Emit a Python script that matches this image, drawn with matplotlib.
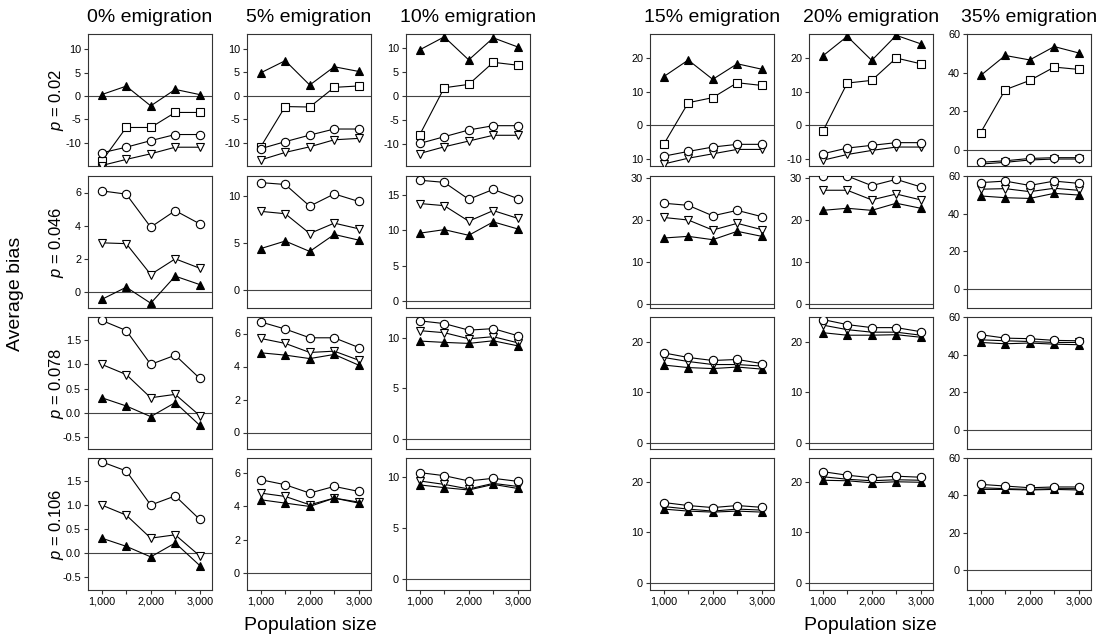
import matplotlib
matplotlib.use('Agg')
import matplotlib.pyplot as plt
from matplotlib.ticker import FixedLocator, FixedFormatter

plt.rcParams['font.family'] = ['Liberation Sans', 'DejaVu Sans']
plt.rcParams['axes.unicode_minus'] = False
plt.rcParams['mathtext.fontset'] = 'custom'
plt.rcParams['mathtext.rm'] = 'Liberation Sans'
plt.rcParams['mathtext.it'] = 'Liberation Sans:italic'

# ---------------- data ----------------
pop_size = [1000, 1500, 2000, 2500, 3000]
x_tick_labels = ['1,000', '', '2,000', '', '3,000']
emigration_labels = ['0% emigration', '5% emigration', '10% emigration',
                     '15% emigration', '20% emigration', '35% emigration']
p_labels = ['0.02', '0.046', '0.078', '0.106']

# row 1 (p = 0.02), one list per emigration column
r1_filled_tri = [
    [0.3, 2.1, -2.1, 1.4, 0.3],
    [4.9, 7.5, 2.3, 6.2, 5.2],
    [9.6, 12.3, 7.5, 12.1, 10.2],
    [14.4, 19.3, 13.6, 18.2, 16.6],
    [20.5, 26.3, 19.2, 26.6, 24.1],
    [38.6, 48.9, 46.6, 53.5, 50.2],
]
r1_square = [
    [-13.9, -6.7, -6.7, -3.5, -3.5],
    [-10.9, -2.3, -2.4, 1.8, 2.1],
    [-8.1, 1.7, 2.4, 7.0, 6.4],
    [-5.6, 6.7, 8.2, 12.6, 11.8],
    [-1.8, 12.5, 13.3, 19.9, 18.2],
    [9.1, 31.2, 36.0, 42.9, 41.7],
]
r1_circle = [
    [-12.1, -10.9, -9.5, -8.2, -8.2],
    [-11.3, -9.8, -8.4, -7.1, -7.1],
    [-9.9, -8.5, -7.1, -6.2, -6.2],
    [-9.1, -7.7, -6.4, -5.6, -5.6],
    [-8.4, -6.7, -5.9, -5.1, -5.1],
    [-6.3, -5.5, -4.3, -3.9, -3.9],
]
r1_inv_tri = [
    [-14.8, -13.5, -12.3, -10.9, -10.9],
    [-13.7, -12.1, -10.9, -9.4, -9.1],
    [-12.0, -10.6, -9.4, -8.2, -8.2],
    [-11.4, -9.7, -8.4, -7.1, -7.1],
    [-10.3, -8.6, -7.4, -6.4, -6.4],
    [-7.2, -6.3, -5.1, -4.6, -4.6],
]

# row 2 (p = 0.046)
r2_circle = [
    [6.1, 5.9, 3.9, 4.9, 4.1],
    [11.4, 11.2, 8.9, 10.2, 9.4],
    [17.1, 16.8, 14.4, 15.8, 14.5],
    [24.0, 23.5, 21.0, 22.3, 20.8],
    [30.5, 30.5, 28.2, 29.7, 27.9],
    [56.5, 57.3, 55.0, 57.3, 56.1],
]
r2_inv_tri = [
    [2.95, 2.9, 1.03, 1.98, 1.41],
    [8.35, 8.1, 6.0, 7.1, 6.5],
    [13.8, 13.5, 11.3, 12.8, 11.7],
    [20.6, 20.0, 17.6, 19.2, 17.7],
    [27.1, 27.1, 24.8, 26.2, 24.8],
    [53.0, 53.3, 51.7, 53.5, 52.4],
]
r2_filled_tri = [
    [-0.48, 0.26, -0.71, 0.93, 0.42],
    [4.4, 5.2, 4.1, 5.9, 5.3],
    [9.6, 10.1, 9.3, 11.2, 10.2],
    [15.7, 16.1, 15.3, 17.3, 16.1],
    [22.3, 22.8, 22.3, 24.0, 22.8],
    [49.4, 48.5, 48.1, 50.8, 49.9],
]

# row 3 (p = 0.078)
r3_circle = [
    [1.91, 1.70, 1.0, 1.19, 0.71],
    [6.7, 6.27, 5.74, 5.74, 5.15],
    [11.67, 11.4, 10.75, 10.9, 10.2],
    [17.8, 16.9, 16.3, 16.5, 15.7],
    [24.4, 23.4, 22.8, 22.8, 22.0],
    [50.6, 48.8, 48.5, 47.6, 47.4],
]
r3_inv_tri = [
    [1.0, 0.79, 0.31, 0.38, -0.06],
    [5.7, 5.4, 4.85, 4.93, 4.38],
    [10.7, 10.5, 9.9, 10.1, 9.5],
    [16.9, 16.1, 15.5, 15.5, 15.2],
    [23.3, 22.4, 21.9, 21.9, 21.3],
    [47.9, 47.4, 47.0, 46.5, 46.5],
]
r3_filled_tri = [
    [0.31, 0.14, -0.08, 0.21, -0.26],
    [4.83, 4.69, 4.48, 4.73, 4.08],
    [9.67, 9.54, 9.44, 9.7, 9.2],
    [15.4, 14.9, 14.7, 15.0, 14.6],
    [21.8, 21.3, 21.3, 21.4, 20.9],
    [46.5, 45.8, 46.2, 45.6, 45.3],
]

# row 4 (p = 0.106)
r4_circle = [
    [1.90, 1.71, 1.0, 1.19, 0.70],
    [5.6, 5.3, 4.8, 5.2, 4.9],
    [10.46, 10.16, 9.64, 9.9, 9.6],
    [15.9, 15.3, 14.9, 15.3, 14.95],
    [22.0, 21.3, 20.8, 21.1, 20.9],
    [45.9, 45.0, 44.1, 44.5, 44.5],
]
r4_inv_tri = [
    [1.0, 0.79, 0.31, 0.38, -0.06],
    [4.8, 4.6, 4.1, 4.5, 4.26],
    [9.64, 9.3, 8.85, 9.4, 9.1],
    [15.1, 14.6, 14.2, 14.6, 14.4],
    [21.0, 20.5, 20.2, 20.4, 20.3],
    [44.1, 43.6, 43.2, 43.6, 43.6],
]
r4_filled_tri = [
    [0.31, 0.14, -0.08, 0.21, -0.26],
    [4.4, 4.2, 4.0, 4.5, 4.2],
    [9.25, 8.98, 8.75, 9.3, 8.9],
    [14.6, 14.2, 14.0, 14.2, 14.0],
    [20.3, 20.2, 19.8, 20.0, 19.9],
    [43.2, 43.2, 42.9, 43.2, 42.9],
]

rows = [
    {'square': r1_square, 'inv': r1_inv_tri, 'tri': r1_filled_tri, 'circle': r1_circle},
    {'inv': r2_inv_tri, 'tri': r2_filled_tri, 'circle': r2_circle},
    {'inv': r3_inv_tri, 'tri': r3_filled_tri, 'circle': r3_circle},
    {'inv': r4_inv_tri, 'tri': r4_filled_tri, 'circle': r4_circle},
]

# ---------------- axis settings ----------------
ylims = [
    [(-14.9, 13.2), (-15.0, 13.2), (-14.6, 12.9), (-12, 27), (-12, 27), (-8.2, 60)],
    [(-1, 7), (-1.9, 12.1), (-1, 17.7), (-1, 30.5), (-1, 30.5), (-10, 60)],
    [(-0.75, 1.98), (-1, 7), (-1, 12.05), (-1.2, 24.9), (-1.2, 24.9), (-10, 60)],
    [(-0.77, 1.98), (-1, 6.9), (-1.1, 11.9), (-1.4, 24.7), (-1.4, 24.7), (-10.6, 60)],
]
yticks = [
    [[-10, -5, 0, 5, 10]] * 3 + [[-10, 0, 10, 20]] * 2 + [[0, 20, 40, 60]],
    [[0, 2, 4, 6], [0, 5, 10], [0, 5, 10, 15], [0, 10, 20, 30], [0, 10, 20, 30], [0, 20, 40, 60]],
    [[-0.5, 0.0, 0.5, 1.0, 1.5], [0, 2, 4, 6], [0, 5, 10], [0, 10, 20], [0, 10, 20], [0, 20, 40, 60]],
    [[-0.5, 0.0, 0.5, 1.0, 1.5], [0, 2, 4, 6], [0, 5, 10], [0, 10, 20], [0, 10, 20], [0, 20, 40, 60]],
]

styles = {
    'square': dict(marker='s', mfc='white', zorder=3),
    'inv': dict(marker='v', mfc='white', zorder=4),
    'tri': dict(marker='^', mfc='black', zorder=5),
    'circle': dict(marker='o', mfc='white', zorder=6),
}

W, H = 1104, 637
fig = plt.figure(figsize=(W / 100, H / 100), dpi=100)
col_left = [88, 247, 406, 650, 809, 967]
row_top = [34, 176, 317, 458]
pw, ph = 124, 132

for r in range(4):
    for c in range(6):
        ax = fig.add_axes([col_left[c] / W, 1 - (row_top[r] + ph) / H, pw / W, ph / H])
        ax.set_xlim(720, 3250)
        ax.set_ylim(*ylims[r][c])
        ax.axhline(0, color='#444444', lw=0.8, zorder=1)
        for key, series in rows[r].items():
            st = styles[key]
            ax.plot(pop_size, series[c], color='black', lw=0.8, marker=st['marker'],
                    ms=6, mfc=st['mfc'], mec='black', mew=0.8, zorder=st['zorder'])
        ticks = yticks[r][c]
        ax.yaxis.set_major_locator(FixedLocator(ticks))
        if r == 0 and c == 3:
            labels = ['10', '0', '10', '20']
        elif c == 0 and r >= 2:
            labels = ['%.1f' % t for t in ticks]
        else:
            labels = ['%d' % t for t in ticks]
        ax.yaxis.set_major_formatter(FixedFormatter(labels))
        if r == 3:
            ax.set_xticks(pop_size)
            ax.set_xticklabels(x_tick_labels)
        else:
            ax.set_xticks([])
        ax.tick_params(direction='out', length=3, width=0.8, labelsize=7.8, pad=2,
                       color='#333333')
        for s in ax.spines.values():
            s.set_linewidth(0.8)
            s.set_color('#333333')

for c in range(6):
    fig.text((col_left[c] + pw / 2) / W, 1 - 17 / H, emigration_labels[c],
             ha='center', va='center', fontsize=14)

for r in range(4):
    fig.text(57 / W, 1 - (row_top[r] + ph / 2) / H, r'$p$ = ' + p_labels[r],
             rotation=90, ha='center', va='center', fontsize=12)

fig.text(16 / W, 1 - 294 / H, 'Average bias', rotation=90, ha='center', va='center', fontsize=14)
fig.text(310 / W, 1 - 626 / H, 'Population size', ha='center', va='center', fontsize=14)
fig.text(870 / W, 1 - 626 / H, 'Population size', ha='center', va='center', fontsize=14)

fig.savefig('out.png', dpi=100)
